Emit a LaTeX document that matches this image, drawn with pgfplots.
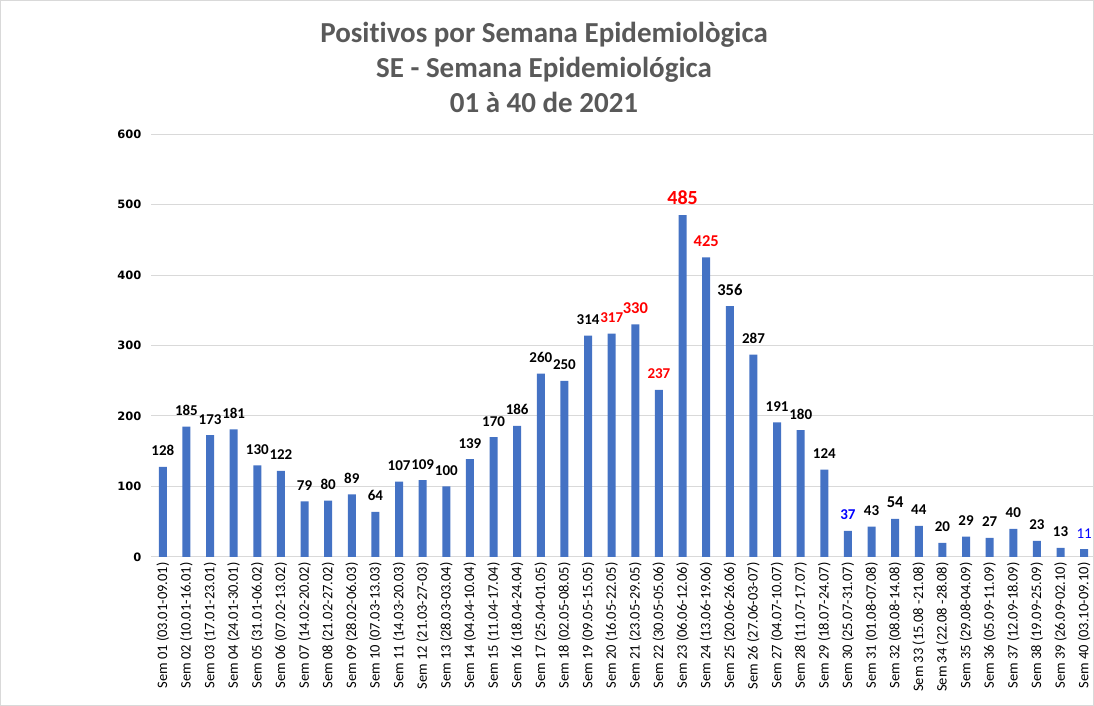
\documentclass[border=0pt]{standalone}
\usepackage{pgfplots}
\pgfplotsset{compat=1.18}
\usepackage{fontspec}
\setmainfont{Carlito}[Ligatures={NoCommon,TeX}]
\newfontfamily\dejavu{DejaVu Sans}
\definecolor{barblue}{HTML}{4472C4}
\definecolor{titlegray}{HTML}{595959}
\definecolor{gridgray}{HTML}{D9D9D9}
\definecolor{lblred}{HTML}{FF0000}
\definecolor{lblblue}{HTML}{0000FF}
\begin{document}
\begin{tikzpicture}[x=1pt,y=1pt]
\useasboundingbox (0,0) rectangle (1094,706);
\draw[gridgray] (0.5,0.5) rectangle (1093.5,705.5);
\node[font=\fontsize{29}{32}\selectfont\bfseries, text=titlegray, anchor=base] at (544,663) {Positivos por Semana Epidemiològica};
\node[font=\fontsize{29}{32}\selectfont\bfseries, text=titlegray, anchor=base] at (544,628) {SE - Semana Epidemiológica};
\node[font=\fontsize{29}{32}\selectfont\bfseries, text=titlegray, anchor=base] at (544,593) {01 à 40 de 2021};
\begin{axis}[
  at={(151pt,149pt)}, anchor=south west,
  scale only axis, width=945pt, height=423pt,
  xmin=-0.5, xmax=39.5, ymin=0, ymax=600,
  ytick={0,100,...,600},
  xtick={0,...,39},
  xticklabels={Sem 01 (03.01-09.01),Sem 02 (10.01-16.01),Sem 03 (17.01-23.01),Sem 04 (24.01-30.01),Sem 05 (31.01-06.02),Sem 06 (07.02-13.02),Sem 07 (14.02-20.02),Sem 08 (21.02-27.02),Sem 09 (28.02-06.03),Sem 10 (07.03-13.03),Sem 11 (14.03-20.03),Sem 12 (21.03-27-03),Sem 13 (28.03-03.04),Sem 14 (04.04-10.04),Sem 15 (11.04-17.04),Sem 16 (18.04-24.04),Sem 17 (25.04-01.05),Sem 18 (02.05-08.05),Sem 19 (09.05-15.05),Sem 20 (16.05-22.05),Sem 21 (23.05-29.05),Sem 22 (30.05-05.06),Sem 23 (06.06-12.06),Sem 24 (13.06-19.06),Sem 25 (20.06-26.06),Sem 26 (27.06-03-07),Sem 27 (04.07-10.07),Sem 28 (11.07-17.07),Sem 29 (18.07-24.07),Sem 30 (25.07-31.07),Sem 31 (01.08-07.08),Sem 32 (08.08-14.08),Sem 33 (15.08 -21.08),Sem 34 (22.08 -28.08),Sem 35 (29.08-04.09),Sem 36 (05.09-11.09),Sem 37 (12.09-18.09),Sem 38 (19.09-25.09),Sem 39 (26.09-02.10),Sem 40 (03.10-09.10)},
  xticklabel style={rotate=90, anchor=east, font=\fontsize{14.5}{15}\selectfont, xshift=-2pt},
  yticklabel style={font=\dejavu\fontsize{11.5}{12}\selectfont\bfseries, xshift=-6pt},
  /pgf/number format/assume math mode=true,
  ymajorgrids, grid style={gridgray, line width=1pt},
  axis line style={draw=none},
  major tick length=0pt,
  clip=false,
  lbl/.style={only marks, mark=none, nodes near coords, nodes near coords style={anchor=base, inner sep=0pt, yshift=11pt, #1}},
]
\addplot[ybar, bar width=8pt, fill=barblue, draw=none] coordinates {
(0,128)(1,185)(2,173)(3,181)(4,130)(5,122)(6,79)(7,80)(8,89)(9,64)
(10,107)(11,109)(12,100)(13,139)(14,170)(15,186)(16,260)(17,250)(18,314)(19,317)
(20,330)(21,237)(22,485)(23,425)(24,356)(25,287)(26,191)(27,180)(28,124)(29,37)
(30,43)(31,54)(32,44)(33,20)(34,29)(35,27)(36,40)(37,23)(38,13)(39,11)};
% black labels
\addplot[lbl={font=\fontsize{15}{16}\selectfont\bfseries, text=black}] coordinates {
(0,128)(1,185)(2,173)(3,181)(4,130)(5,122)(6,79)(7,80)(8,89)(9,64)
(10,107)(11,109)(12,100)(13,139)(14,170)(15,186)(16,260)(17,250)(18,314)
(25,287)(26,191)(27,180)(28,124)
(30,43)(32,44)(33,20)(34,29)(35,27)(36,40)(37,23)(38,13)};
\addplot[lbl={font=\fontsize{16.5}{17}\selectfont\bfseries, text=black}] coordinates {(24,356)(31,54)};
% red labels
\addplot[lbl={font=\fontsize{15}{16}\selectfont\bfseries, text=lblred}] coordinates {(19,317)(21,237)};
\addplot[lbl={font=\fontsize{16.5}{17}\selectfont\bfseries, text=lblred}] coordinates {(20,330)(23,425)};
\addplot[lbl={font=\fontsize{20}{21}\selectfont\bfseries, text=lblred}] coordinates {(22,485)};
% blue labels
\addplot[lbl={font=\fontsize{15}{16}\selectfont\bfseries, text=lblblue}] coordinates {(29,37)};
\addplot[lbl={font=\fontsize{15}{16}\selectfont, text=lblblue}] coordinates {(39,11)};
\end{axis}
\end{tikzpicture}
\end{document}
